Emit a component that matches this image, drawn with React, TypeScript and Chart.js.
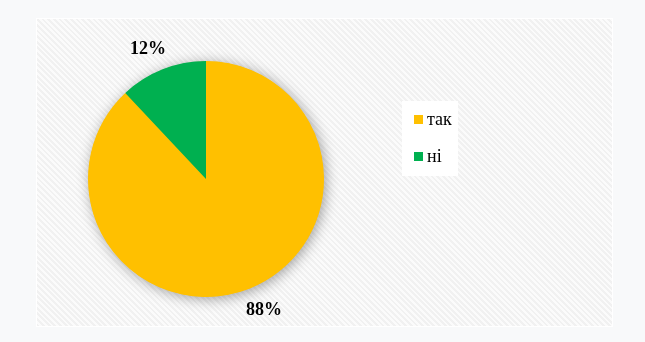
import React, { useEffect, useRef } from "react";
import { Chart, registerables } from "chart.js";

Chart.register(...registerables);

const categories = ["так", "ні"];
const values = [88, 12];
const colors = ["#FFC000", "#00B050"];

const shadowPlugin = {
  id: "pieShadow",
  beforeDatasetsDraw(chart: any) {
    const meta = chart.getDatasetMeta(0);
    const arc = meta.data[0];
    if (!arc) return;
    const { x, y, outerRadius } = arc.getProps(["x", "y", "outerRadius"], true);
    const ctx = chart.ctx;
    ctx.save();
    ctx.shadowColor = "rgba(0,0,0,0.38)";
    ctx.shadowBlur = 14;
    ctx.shadowOffsetX = 2;
    ctx.shadowOffsetY = 2;
    ctx.beginPath();
    ctx.arc(x, y, outerRadius - 0.5, 0, Math.PI * 2);
    ctx.fillStyle = colors[0];
    ctx.fill();
    ctx.restore();
  },
};

const labelPlugin = {
  id: "outerLabels",
  afterDatasetsDraw(chart: any) {
    const meta = chart.getDatasetMeta(0);
    const data = chart.data.datasets[0].data as number[];
    const total = data.reduce((a, b) => a + b, 0);
    const ctx = chart.ctx;
    ctx.save();
    ctx.font = "bold 18px 'Liberation Serif', 'Times New Roman', serif";
    ctx.fillStyle = "#000";
    ctx.textAlign = "center";
    ctx.textBaseline = "middle";
    meta.data.forEach((arc: any, i: number) => {
      const { x, y, startAngle, endAngle, outerRadius } = arc.getProps(
        ["x", "y", "startAngle", "endAngle", "outerRadius"],
        true
      );
      const mid = (startAngle + endAngle) / 2 - 0.04;
      const r = outerRadius + 25;
      const pct = Math.round((data[i] / total) * 100) + "%";
      ctx.fillText(pct, x + Math.cos(mid) * r, y + Math.sin(mid) * r + 1);
    });
    ctx.restore();
  },
};

const legendPlugin = {
  id: "boxLegend",
  afterDraw(chart: any) {
    const ctx = chart.ctx;
    const labels = chart.data.labels as string[];
    const bg = chart.data.datasets[0].backgroundColor as string[];
    const bx = 402;
    const by = 101;
    const bw = 56;
    const bh = 75;
    ctx.save();
    ctx.fillStyle = "#ffffff";
    ctx.fillRect(bx, by, bw, bh);
    ctx.font = "18px 'Liberation Serif', 'Times New Roman', serif";
    ctx.textAlign = "left";
    ctx.textBaseline = "middle";
    labels.forEach((lab, i) => {
      const cy = 120 + i * 37;
      ctx.fillStyle = bg[i];
      ctx.fillRect(414, cy - 5, 9, 9);
      ctx.fillStyle = "#000";
      ctx.fillText(lab, 427, cy);
    });
    ctx.restore();
  },
};

export default function App() {
  const ref = useRef<HTMLCanvasElement>(null);
  useEffect(() => {
    if (!ref.current) return;
    const chart = new Chart(ref.current, {
      type: "pie",
      data: {
        labels: categories,
        datasets: [
          {
            data: values,
            backgroundColor: colors,
            borderWidth: 0,
          },
        ],
      },
      options: {
        animation: false,
        responsive: true,
        maintainAspectRatio: false,
        layout: { padding: { left: 88, right: 321, top: 61, bottom: 45 } },
        plugins: {
          legend: { display: false },
          tooltip: { enabled: false },
        },
      },
      plugins: [shadowPlugin, labelPlugin, legendPlugin],
    });
    return () => chart.destroy();
  }, []);

  return (
    <div
      style={{
        position: "fixed",
        left: 0,
        top: 0,
        width: 645,
        height: 342,
        background: "#f8f9fa",
      }}
    >
      <div
        style={{
          position: "absolute",
          left: 36,
          top: 18,
          width: 575,
          height: 307,
          border: "1px solid #ffffff",
          background:
            "repeating-linear-gradient(45deg, #f1f1f1 0px, #f1f1f1 2px, #fbfbfb 2px, #fbfbfb 4px)",
        }}
      />
      <div style={{ position: "absolute", left: 0, top: 0, width: 645, height: 342 }}>
        <canvas ref={ref} />
      </div>
    </div>
  );
}
